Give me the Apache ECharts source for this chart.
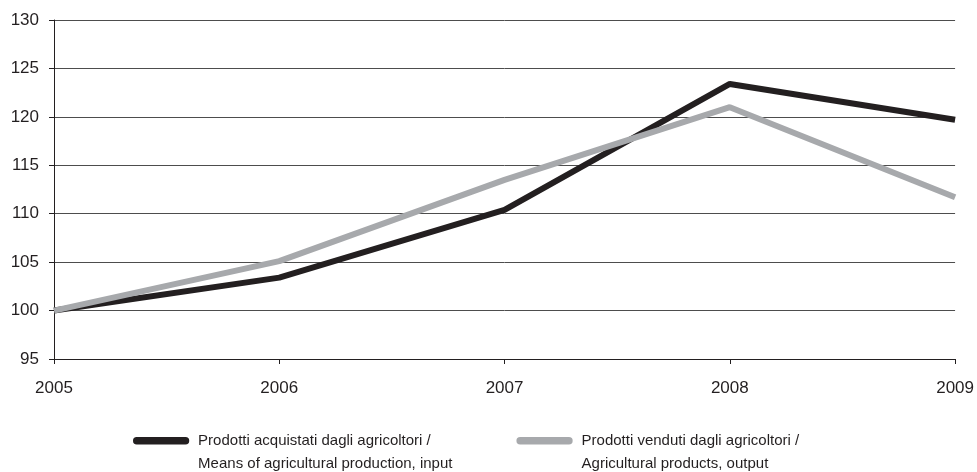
<!DOCTYPE html>
<html>
<head>
<meta charset="utf-8">
<script src="https://cdn.jsdelivr.net/npm/echarts@6/dist/echarts.min.js"></script>
<style>html,body{margin:0;padding:0;background:#fff;}#c{width:977px;height:472px;}</style>
</head>
<body>
<div id="c"></div>
<script>
const years = ['2005', '2006', '2007', '2008', '2009'];
const inputValues = [100, 103.4, 110.4, 123.4, 119.7];
const outputValues = [100, 105.1, 113.5, 121.0, 111.7];
const seriesNames = [
  'Prodotti acquistati dagli agricoltori /\nMeans of agricultural production, input',
  'Prodotti venduti dagli agricoltori /\nAgricultural products, output'
];
const yMin = 95, yMax = 130, yStep = 5;

const chart = echarts.init(document.getElementById('c'));
const font = 'Liberation Sans, Arial, sans-serif';
const iconPath = 'path://M4,0 L56,0 A4,4 0 0 1 56,8 L4,8 A4,4 0 0 1 4,0 Z M0,32 L0.01,32 L0,32.01 Z';
chart.setOption({
  animation: false,
  backgroundColor: '#ffffff',
  grid: { left: 54, right: 20, top: 20, bottom: 113, containLabel: false },
  xAxis: {
    type: 'category',
    data: years,
    boundaryGap: false,
    axisLine: { lineStyle: { color: '#231f20', width: 1 } },
    axisTick: { show: true, length: 5, lineStyle: { color: '#231f20' } },
    axisLabel: { color: '#231f20', fontSize: 17, fontFamily: font, margin: 21 },
    splitLine: { show: false }
  },
  yAxis: {
    type: 'value',
    min: yMin, max: yMax, interval: yStep,
    axisLine: { show: true, lineStyle: { color: '#231f20', width: 1 } },
    axisTick: { show: true, length: 5, lineStyle: { color: '#231f20' } },
    axisLabel: { color: '#231f20', fontSize: 17, fontFamily: font, margin: 15 },
    splitLine: { show: true, lineStyle: { color: '#4d4d4d', width: 1 } }
  },
  legend: {
    left: 133, top: 429, padding: 0,
    itemWidth: 62, itemHeight: 30,
    itemGap: 64,
    icon: iconPath,
    textStyle: { color: '#231f20', fontSize: 15, fontFamily: font, lineHeight: 23, padding: [0, 0, 0, 1] },
    data: [
      { name: seriesNames[0], itemStyle: { color: '#231f20' } },
      { name: seriesNames[1], itemStyle: { color: '#a7a9ac' } }
    ]
  },
  series: [
    {
      name: seriesNames[1], type: 'line', data: outputValues,
      symbol: 'none', lineStyle: { color: '#a7a9ac', width: 6 }, itemStyle: { color: '#a7a9ac' },
      z: 2
    },
    {
      name: seriesNames[0], type: 'line', data: inputValues,
      symbol: 'none', lineStyle: { color: '#231f20', width: 6 }, itemStyle: { color: '#231f20' },
      z: 1
    }
  ]
});
</script>
</body>
</html>
